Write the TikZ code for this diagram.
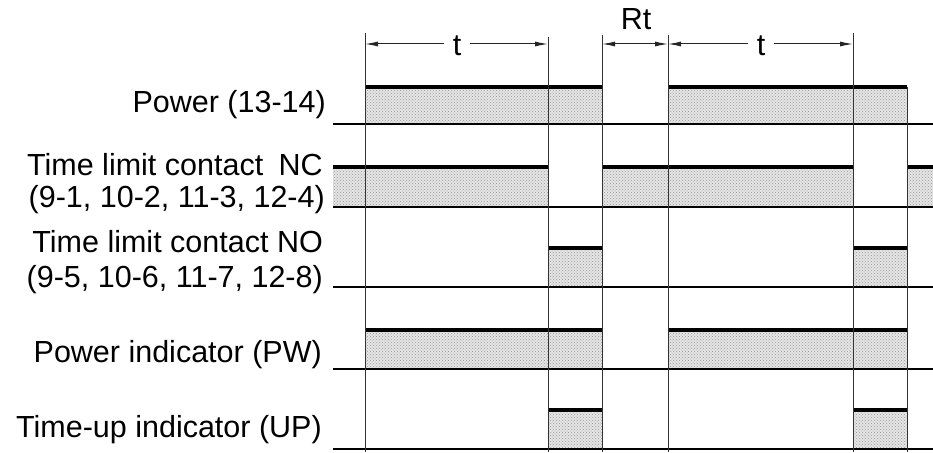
\documentclass[tikz,border=0pt]{standalone}
\usepackage{fontspec}
\setmainfont{Liberation Sans}
\usetikzlibrary{arrows.meta,patterns}
\begin{document}
\begin{tikzpicture}[x=1pt,y=-1pt,
  lbl/.style={anchor=base east, inner sep=0pt, font=\fontsize{30.5}{36}\selectfont},
  dimlbl/.style={inner sep=9pt, font=\fontsize{30.5}{36}\selectfont},
  hifill/.style={fill=gray!20},
  hidots/.style={pattern=crosshatch dots, pattern color=gray!80},
  topedge/.style={line width=3.2pt},
  baseln/.style={line width=1.5pt},
  vline/.style={line width=1pt, black!80},
  dimln/.style={line width=1pt, black!85},
  tip/.style={-{Latex[length=13pt,width=5pt]}},
  tips/.style={{Latex[length=13pt,width=5pt]}-{Latex[length=13pt,width=5pt]}}]
\useasboundingbox (0,0) rectangle (933,452);

% high segments: top, base, x1, x2
\foreach \t/\b/\xa/\xb in {
  87/124/365/602, 87/124/668/907,
  167/207/333/548, 167/207/602/853, 167/207/907/933,
  248/287/548/602, 248/287/853/907,
  330/369/365/602, 330/369/668/907,
  410/449/548/602, 410/449/853/907}{
  \fill[hifill] (\xa,\t) rectangle (\xb,\b);
  \fill[hidots] (\xa,\t) rectangle (\xb,\b);
  \draw[topedge] (\xa,\t) -- (\xb,\t);
}

% baselines
\foreach \b in {124,207,287,369,449}{
  \draw[baseln] (333,\b) -- (933,\b);
}

% vertical time markers
\coordinate (v1) at (365,33);
\coordinate (v2) at (548,37);
\coordinate (v3) at (602,35);
\coordinate (v4) at (668,35);
\coordinate (v5) at (853,33);
\coordinate (v6) at (907,87);
\foreach \v in {v1,v2,v3,v4,v5,v6}{
  \draw[vline] (\v) -- (\v |- 0,452);
}

% dimension lines
\node[dimlbl] (t1) at (457,46) {t};
\node[dimlbl] (t2) at (761,46) {t};
\node[dimlbl, inner sep=0pt] (rt) at (636,19) {Rt};
\coordinate (a1) at (v1 |- 0,44);
\coordinate (a2) at (v2 |- 0,44);
\coordinate (a3) at (v3 |- 0,44);
\coordinate (a4) at (v4 |- 0,44);
\coordinate (a5) at (v5 |- 0,44);
\draw[dimln,tip] (t1.west |- 0,44) -- (a1);
\draw[dimln,tip] (t1.east |- 0,44) -- (a2);
\draw[dimln,tips] (a3) -- (a4);
\draw[dimln,tip] (t2.west |- 0,44) -- (a4);
\draw[dimln,tip] (t2.east |- 0,44) -- (a5);

% labels
\node[lbl] (lpow) at (326,112) {Power (13-14)};
\node[lbl] (lnc1) at (323,175) {Time limit contact\hspace{7pt} NC};
\node[lbl] (lnc2) at (325,207) {(9-1, 10-2, 11-3, 12-4)};
\node[lbl] (lno1) at (323,252) {Time limit contact NO};
\node[lbl] (lno2) at (323,287) {(9-5, 10-6, 11-7, 12-8)};
\node[lbl] (lpw) at (322,362) {Power indicator (PW)};
\node[lbl] (lup) at (322,437) {Time-up indicator (UP)};
\end{tikzpicture}
\end{document}
